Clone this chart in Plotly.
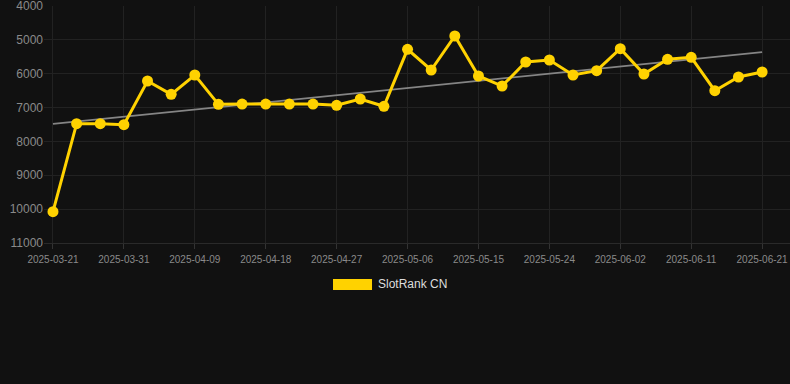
import numpy as np
import plotly.graph_objects as go

dates = ["2025-03-21", "2025-03-24", "2025-03-28", "2025-03-31", "2025-04-03", "2025-04-06",
         "2025-04-09", "2025-04-12", "2025-04-15", "2025-04-18", "2025-04-21", "2025-04-24",
         "2025-04-27", "2025-04-30", "2025-05-03", "2025-05-06", "2025-05-09", "2025-05-12",
         "2025-05-15", "2025-05-18", "2025-05-21", "2025-05-24", "2025-05-27", "2025-05-30",
         "2025-06-02", "2025-06-05", "2025-06-08", "2025-06-11", "2025-06-14", "2025-06-18",
         "2025-06-21"]
rank = [10075, 7476, 7476, 7505, 6215, 6609, 6038, 6905, 6895, 6895, 6895, 6895, 6933, 6747,
        6962, 5279, 5890, 4886, 6067, 6363, 5654, 5595, 6038, 5910, 5260, 6008, 5575, 5516,
        6501, 6097, 5949]
tick_labels = dates[::3]
y_ticks = [4000, 5000, 6000, 7000, 8000, 9000, 10000, 11000]
y_tick_text = [str(v) for v in y_ticks]
series_name = "SlotRank CN"

idx = np.arange(len(rank))
slope, intercept = np.polyfit(idx, rank, 1)
trend = slope * idx + intercept

BG = "#111111"
GOLD = "#FFD200"

fig = go.Figure()
fig.add_trace(go.Scatter(
    x=dates, y=trend, mode="lines",
    line=dict(color="#858585", width=1.8), hoverinfo="skip", showlegend=False))
fig.add_trace(go.Scatter(
    x=dates, y=rank, mode="lines+markers", name=series_name,
    line=dict(color=GOLD, width=3),
    marker=dict(color=GOLD, size=11), showlegend=False, cliponaxis=False))

fig.update_layout(
    width=790, height=384,
    paper_bgcolor=BG, plot_bgcolor=BG,
    margin=dict(l=44, r=0, t=6, b=141),
    font=dict(family="Liberation Sans, Arial, sans-serif", color="#8a8a8a"),
    showlegend=False,
)
fig.update_xaxes(
    type="category", categoryorder="array", categoryarray=dates,
    range=[-0.38, 31.18],
    tickmode="array", tickvals=tick_labels, ticktext=tick_labels,
    tickfont=dict(size=10, color="#8a8a8a"), ticklabelstandoff=2,
    showgrid=True, gridcolor="#222222", gridwidth=1,
    ticks="outside", ticklen=5, tickcolor="#333333",
    showline=True, linecolor="#2a2a2a", zeroline=False,
)
fig.update_yaxes(
    range=[11000.5, 3999.5], tickmode="array", tickvals=y_ticks, ticktext=y_tick_text,
    tickfont=dict(size=12, color="#8a8a8a"), ticklabeloverflow="allow",
    showgrid=True, gridcolor="#222222", gridwidth=1,
    zeroline=False, showline=False, ticks="",
)

# custom legend
fig.add_shape(type="rect", xref="paper", yref="paper",
              x0=0.3874, x1=0.4397, y0=-0.198, y1=-0.152,
              fillcolor=GOLD, line=dict(width=0))
fig.add_annotation(xref="paper", yref="paper", x=0.4450, y=-0.175,
                   text=series_name, showarrow=False, xanchor="left", yanchor="middle",
                   font=dict(size=12, color="#dddddd"))

fig.write_html("out.html", config={"displayModeBar": False},
               post_script="document.body.style.margin='0';document.body.style.background='#111111';")
